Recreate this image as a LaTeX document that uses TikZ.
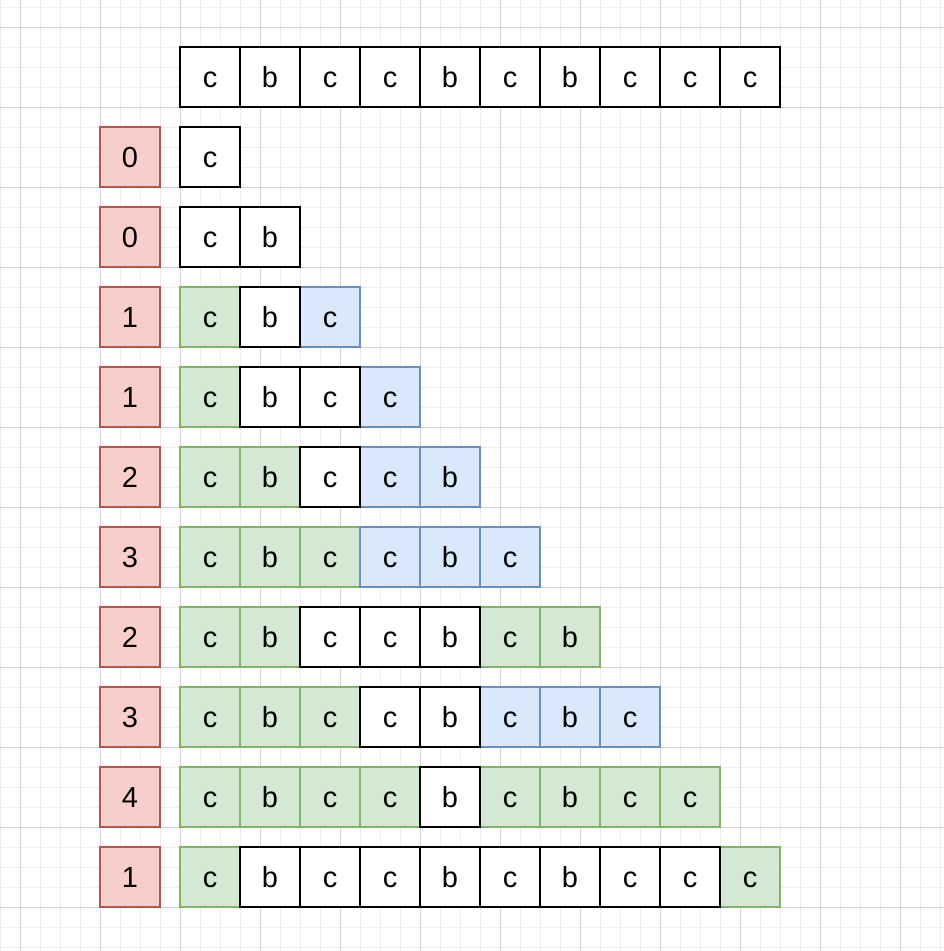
\documentclass[tikz,border=0pt]{standalone}
\usepackage{fontspec}
\setmainfont{Liberation Sans}
\usepackage{tikz}
\usepackage{xcolor}

\definecolor{redfill}{HTML}{F8CECC}
\definecolor{redline}{HTML}{B85450}
\definecolor{greenfill}{HTML}{D5E8D4}
\definecolor{greenline}{HTML}{82B366}
\definecolor{bluefill}{HTML}{DAE8FC}
\definecolor{blueline}{HTML}{6C8EBF}
\definecolor{gridminor}{HTML}{EDEDED}
\definecolor{gridmajor}{HTML}{D4D4D4}

\tikzset{
  box/.style={minimum size=1.2cm,inner sep=0pt,text height=11.8pt,text depth=0pt,
    font=\fontsize{16.5}{19}\selectfont},
  cell0/.style={box,draw=black,fill=white,line width=1.1pt},
  cell1/.style={box,draw=greenline,fill=greenfill,line width=0.8pt},
  cell2/.style={box,draw=blueline,fill=bluefill,line width=0.8pt},
  numbox/.style={box,draw=redline,fill=redfill,line width=0.8pt}
}

\begin{document}
\begin{tikzpicture}[x=0.02cm,y=-0.02cm]
\useasboundingbox[fill=white] (0,0) rectangle (944,951);
% background grid
\foreach \x in {0,20,...,940} \draw[gridminor,line width=0.4pt] (\x,0) -- (\x,951);
\foreach \y in {7,27,...,947} \draw[gridminor,line width=0.4pt] (0,\y) -- (944,\y);
\foreach \x in {20,100,...,900} \draw[gridmajor,line width=0.4pt] (\x,0) -- (\x,951);
\foreach \y in {27,107,...,907} \draw[gridmajor,line width=0.4pt] (0,\y) -- (944,\y);
% the string
\foreach \t [count=\c] in {c,b,c,c,b,c,b,c,c,c}
  \node[cell0] (t\c) at ({150+60*\c},77) {\t};
% rows: 0 = plain, 1 = green, 2 = blue
\foreach \r/\n/\row in {
  1/0/{0/c},
  2/0/{0/c,0/b},
  3/1/{1/c,0/b,2/c},
  4/1/{1/c,0/b,0/c,2/c},
  5/2/{1/c,1/b,0/c,2/c,2/b},
  6/3/{1/c,1/b,1/c,2/c,2/b,2/c},
  7/2/{1/c,1/b,0/c,0/c,0/b,1/c,1/b},
  8/3/{1/c,1/b,1/c,0/c,0/b,2/c,2/b,2/c},
  9/4/{1/c,1/b,1/c,1/c,0/b,1/c,1/b,1/c,1/c},
  10/1/{1/c,0/b,0/c,0/c,0/b,0/c,0/b,0/c,0/c,1/c}}{
  \node[numbox] (n\r) at (130,{77+80*\r}) {\n};
  \foreach \s/\t [count=\c] in \row {
    \ifnum\s>0 \node[cell\s] (r\r-\c) at ({150+60*\c},{77+80*\r}) {\t};\fi
  }
  \foreach \s/\t [count=\c] in \row {
    \ifnum\s=0 \node[cell0] (r\r-\c) at ({150+60*\c},{77+80*\r}) {\t};\fi
  }
}
\end{tikzpicture}
\end{document}
